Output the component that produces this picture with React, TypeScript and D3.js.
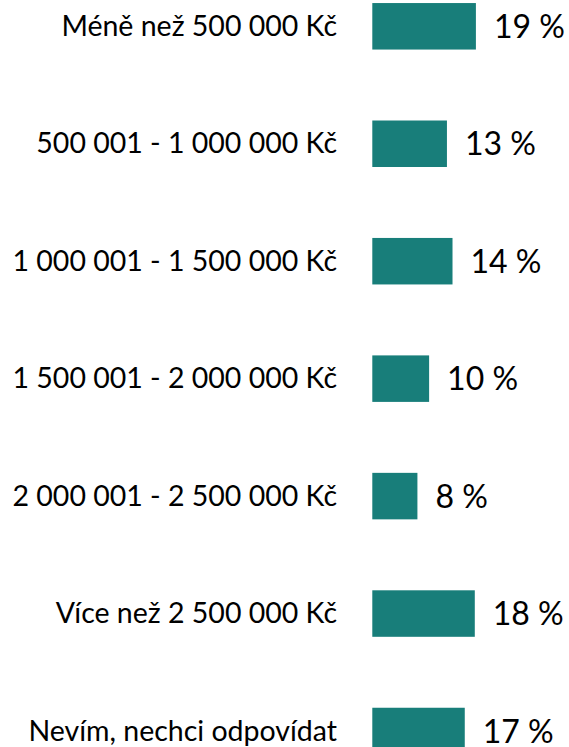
import React from "react";
import * as d3 from "d3";

const categories = [
  "Méně než 500 000 Kč",
  "500 001 - 1 000 000 Kč",
  "1 000 001 - 1 500 000 Kč",
  "1 500 001 - 2 000 000 Kč",
  "2 000 001 - 2 500 000 Kč",
  "Více než 2 500 000 Kč",
  "Nevím, nechci odpovídat",
];
const values = [18.6, 13.4, 14.4, 10.2, 8.1, 18.4, 16.6];
const valueLabels = ["19 %", "13 %", "14 %", "10 %", "8 %", "18 %", "17 %"];

const W = 569;
const H = 747;
const FONT = "Lato, 'Open Sans', sans-serif";

export default function App() {
  const x = d3.scaleLinear().domain([0, 20]).range([372.3, 372.3 + 111.4]);
  const y = d3.scalePoint<string>().domain(categories).range([26.3, 731.0]);
  const barH = 46.5;

  return (
    <svg
      width={W}
      height={H}
      style={{ position: "absolute", left: 0, top: 0, background: "#fff" }}
    >
      {categories.map((c, i) => {
        const cy = y(c)!;
        const x0 = x(0);
        const x1 = x(values[i]);
        return (
          <g key={c}>
            <rect x={x0} y={cy - barH / 2} width={x1 - x0} height={barH} fill="#187E7A" />
            <text
              x={337}
              y={cy}
              dy="0.34em"
              textAnchor="end"
              fontFamily={FONT}
              fontSize={28.5}
              fill="#000"
            >
              {c}
            </text>
            <text
              x={x1 + 18}
              y={cy}
              dy="0.36em"
              textAnchor="start"
              fontFamily={FONT}
              fontSize={32}
              fill="#000"
            >
              {valueLabels[i]}
            </text>
          </g>
        );
      })}
    </svg>
  );
}
